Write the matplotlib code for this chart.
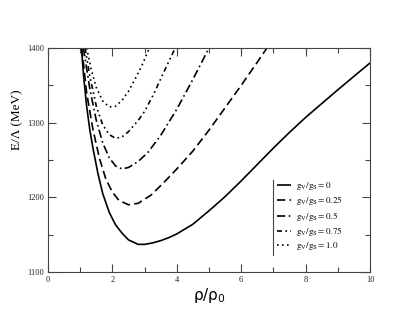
import matplotlib
matplotlib.use("Agg")
import matplotlib.pyplot as plt
from matplotlib.lines import Line2D
from matplotlib.ticker import MultipleLocator

# ---- data ----
x_solid = [1.04, 1.1, 1.2, 1.3, 1.4, 1.55, 1.7, 1.9, 2.1, 2.3, 2.5, 2.8, 3.0, 3.25, 3.5, 3.75, 4.0, 4.5, 5.0, 5.5, 6.0, 6.5, 7.0, 7.5, 8.0, 9.0, 10.0]
e_solid = [1400, 1365, 1322, 1290, 1265, 1232, 1205, 1180, 1163, 1152, 1143, 1137, 1137, 1139, 1142, 1146, 1151, 1164, 1182, 1201, 1222, 1244, 1266, 1287, 1307, 1344, 1380]

x_025 = [1.05, 1.2, 1.4, 1.6, 1.8, 2.0, 2.2, 2.5, 2.8, 3.2, 3.6, 4.0, 4.5, 5.0, 5.5, 6.0, 6.5, 6.8]
e_025 = [1400, 1340, 1290, 1252, 1224, 1207, 1196, 1190, 1192, 1203, 1220, 1238, 1262, 1290, 1320, 1350, 1381, 1400]

x_050 = [1.1, 1.3, 1.5, 1.7, 1.9, 2.1, 2.3, 2.5, 2.8, 3.1, 3.5, 4.0, 4.5, 5.0]
e_050 = [1400, 1345, 1303, 1273, 1253, 1242, 1238, 1240, 1248, 1260, 1283, 1318, 1358, 1400]

x_075 = [1.15, 1.3, 1.5, 1.7, 1.9, 2.1, 2.3, 2.5, 2.8, 3.0, 3.3, 3.6, 3.95]
e_075 = [1400, 1362, 1322, 1297, 1284, 1279, 1281, 1288, 1303, 1315, 1340, 1368, 1400]

x_100 = [1.2, 1.35, 1.5, 1.7, 1.9, 2.1, 2.3, 2.5, 2.7, 2.9, 3.15]
e_100 = [1400, 1370, 1347, 1329, 1321, 1322, 1330, 1342, 1358, 1375, 1400]

labels = [r"$\mathrm{g_V/g_S = 0}$", r"$\mathrm{g_V/g_S = 0.25}$", r"$\mathrm{g_V/g_S = 0.5}$",
          r"$\mathrm{g_V/g_S = 0.75}$", r"$\mathrm{g_V/g_S = 1.0}$"]
xticks = [0, 2, 4, 6, 8, 10]
yticks = [1100, 1200, 1300, 1400]

plt.rcParams["mathtext.fontset"] = "stix"
plt.rcParams["font.family"] = ["Liberation Serif", "DejaVu Serif"]

fig = plt.figure(figsize=(4.15, 3.21), dpi=100)
ax = fig.add_axes([48/415, 1-272/321, 322/415, 224/321])

series = [(x_solid, e_solid, (0, ())),
          (x_025, e_025, (0, (5, 2.5))),
          (x_050, e_050, (0, (5, 2, 1, 2))),
          (x_075, e_075, (0, (3, 2, 1, 2, 1, 2))),
          (x_100, e_100, (0, (1, 2)))]
for (xs, es, ls), lab in zip(series, labels):
    ax.plot(xs, es, color="black", lw=1.2, linestyle=ls, label=lab)

ax.set_xlim(0, 10)
ax.set_ylim(1100, 1400)
ax.set_xticks(xticks)
ax.set_yticks(yticks)
ax.xaxis.set_minor_locator(MultipleLocator(1))
ax.yaxis.set_minor_locator(MultipleLocator(50))
ax.tick_params(which="both", direction="in", top=True, right=True, labelsize=6,
               colors="#444444", labelcolor="#222222", width=0.8)
ax.tick_params(which="major", length=6, pad=3)
ax.tick_params(which="minor", length=3.5)
for s in ax.spines.values():
    s.set_color("#444444")
    s.set_linewidth(0.8)

ax.set_xlabel(r"$\mathrm{\rho/\rho_0}$", fontsize=11, labelpad=1, math_fontfamily="dejavusans")
fig.text(17/415, 1-120/321, "E/Λ (MeV)", rotation=90, ha="center", va="center", fontsize=9.5)

leg = ax.legend(loc="upper left", bbox_to_anchor=(0.71, 0.41), frameon=False, fontsize=6.5,
                handlelength=1.6, handletextpad=0.6, labelspacing=0.25, borderpad=0, borderaxespad=0)
ax.add_line(Line2D([0.698, 0.698], [0.076, 0.41], transform=ax.transAxes, color="#444444", lw=0.8))

fig.savefig("out.png", dpi=100)
